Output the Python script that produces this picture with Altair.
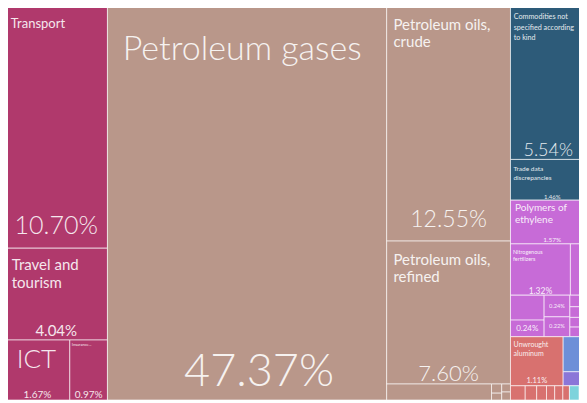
import altair as alt
import pandas as pd

# ---------------- data ----------------
cells = [
    "Transport", "Travel and tourism", "ICT", "Insurance",
    "Petroleum gases",
    "Petroleum oils, crude", "Petroleum oils, refined",
    "Mineral small 1", "Mineral small 2", "Mineral small 3", "Mineral small 4", "Mineral small 5",
    "Commodities not specified according to kind", "Trade data discrepancies",
    "Polymers of ethylene", "Nitrogenous fertilizers", "Chemical small 1",
    "Chemical small 2", "Chemical small 3", "Chemical small 4", "Chemical small 5",
    "Chemical small 6", "Chemical small 7", "Chemical small 8", "Chemical small 9",
    "Unwrought aluminum", "Machine small 1", "Machine small 2",
    "Machine small 3", "Machine small 4", "Machine small 5", "Machine small 6",
    "Metal small 1", "Metal small 2", "Metal small 3", "Metal small 4", "Metal small 5", "Metal small 6",
    "Textile small 1", "Food small 1", "Mineral small 6",
]
values = [
    10.70, 4.04, 1.67, 0.97,
    47.37,
    12.55, 7.60,
    0.72, 0.04, 0.03, 0.03, 0.03,
    5.54, 1.46,
    1.57, 1.32, 0.52,
    0.36, 0.24, 0.24, 0.22,
    0.12, 0.11, 0.10, 0.10,
    1.11, 0.30, 0.12,
    0.08, 0.06, 0.05, 0.04,
    0.09, 0.07, 0.06, 0.05, 0.05, 0.04,
    0.06, 0.05, 0.04,
]
sectors = [
    "services", "services", "services", "services",
    "mineral",
    "mineral", "mineral",
    "mineral", "mineral", "mineral", "mineral", "mineral",
    "unspecified", "unspecified",
    "chemical", "chemical", "chemical",
    "chemical", "chemical", "chemical", "chemical",
    "chemical", "chemical", "chemical", "chemical",
    "metal", "machine", "machine2",
    "machine", "machine", "machine2", "machine",
    "metal", "metal", "metal", "metal", "metal", "metal",
    "textile", "food", "mineral",
]

SECTOR_COLORS = {
    "services": "#B0396C",
    "mineral": "#B9978A",
    "unspecified": "#2D5B79",
    "chemical": "#C76BD7",
    "metal": "#D8716F",
    "machine": "#6D8FD8",
    "machine2": "#8B76D8",
    "textile": "#7DD3DC",
    "food": "#F1D35A",
}

# arrangement of the treemap ("h" = side by side, "v" = stacked)
TREE = ("h", [
    ("v", ["Transport", "Travel and tourism", ("h", ["ICT", "Insurance"])]),
    "Petroleum gases",
    ("v", ["Petroleum oils, crude", "Petroleum oils, refined",
           ("h", ["Mineral small 1", ("v", ["Mineral small 2", "Mineral small 3"]),
                  ("v", ["Mineral small 4", "Mineral small 5"])])]),
    ("v", ["Commodities not specified according to kind", "Trade data discrepancies",
           "Polymers of ethylene",
           ("h", ["Nitrogenous fertilizers", "Chemical small 1"]),
           ("h", [("v", ["Chemical small 2", "Chemical small 3"]),
                  ("v", ["Chemical small 4", "Chemical small 5"]),
                  ("v", ["Chemical small 6", "Chemical small 7", "Chemical small 8", "Chemical small 9"])]),
           ("h", ["Unwrought aluminum", ("v", ["Machine small 1", "Machine small 2"]),
                  ("v", ["Machine small 3", "Machine small 4", "Machine small 5", "Machine small 6"])]),
           ("h", ["Metal small 1", "Metal small 2", "Metal small 3", "Metal small 4", "Metal small 5",
                  "Metal small 6", "Textile small 1", "Food small 1", "Mineral small 6"])]),
])

# label texts
NAME_TEXT = {
    "Transport": ["Transport"],
    "Travel and tourism": ["Travel and", "tourism"],
    "ICT": ["ICT"],
    "Insurance": ["Insurance..."],
    "Petroleum gases": ["Petroleum gases"],
    "Petroleum oils, crude": ["Petroleum oils,", "crude"],
    "Petroleum oils, refined": ["Petroleum oils,", "refined"],
    "Commodities not specified according to kind": ["Commodities not", "specified according", "to kind"],
    "Trade data discrepancies": ["Trade data", "discrepancies"],
    "Polymers of ethylene": ["Polymers of", "ethylene"],
    "Nitrogenous fertilizers": ["Nitrogenous", "fertilizers"],
    "Unwrought aluminum": ["Unwrought", "aluminum"],
}
PCT_SHOWN = ["Transport", "Travel and tourism", "ICT", "Insurance", "Petroleum gases",
             "Petroleum oils, crude", "Petroleum oils, refined",
             "Commodities not specified according to kind", "Trade data discrepancies",
             "Polymers of ethylene", "Nitrogenous fertilizers", "Chemical small 3",
             "Chemical small 4", "Chemical small 5", "Unwrought aluminum"]

# ---------------- styles (px) ----------------
W, H = 589, 395
# name: (font size, first baseline from cell top, line height)
NAME_STYLE = {
    "Transport": (13, 23, 16),
    "Travel and tourism": (15, 22, 17.5),
    "ICT": (26, 28, 28),
    "Insurance": (4, 6, 5),
    "Petroleum gases": (34, 55, 36),
    "Petroleum oils, crude": (15, 25, 16.5),
    "Petroleum oils, refined": (15, 24, 16.5),
    "Commodities not specified according to kind": (7.2, 14, 10.5),
    "Trade data discrepancies": (6.5, 12, 8.5),
    "Polymers of ethylene": (10, 11, 12),
    "Nitrogenous fertilizers": (5.5, 10, 7),
    "Unwrought aluminum": (7, 10, 9),
}
# pct: (font size, baseline distance from cell bottom, horizontal shift)
PCT_STYLE = {
    "Transport": (25, 14, 0), "Travel and tourism": (15, 4, 0), "ICT": (10, 2.5, 0),
    "Insurance": (10, 2.5, 0), "Petroleum gases": (45, 14, 12), "Petroleum oils, crude": (23, 14, 0),
    "Petroleum oils, refined": (22, 3, 0), "Commodities not specified according to kind": (18, 3, -4),
    "Trade data discrepancies": (6, 1.5, 0), "Polymers of ethylene": (6.5, 1.5, 0),
    "Nitrogenous fertilizers": (8.5, 1.5, 0), "Chemical small 3": (8, 6, 0),
    "Chemical small 4": (5.7, 9, 0), "Chemical small 5": (5.7, 9, 0), "Unwrought aluminum": (7.5, 3, 0),
}

# ---------------- layout (slice and dice by value) ----------------
val = dict(zip(cells, values))
sec = dict(zip(cells, sectors))


def total(n):
    return val[n] if isinstance(n, str) else sum(total(k) for k in n[1])


rects = []


def place(n, x0, y0, x1, y1):
    if isinstance(n, str):
        rects.append(dict(name=n, x0=x0, y0=y0, x1=x1, y1=y1, value=val[n],
                          color=SECTOR_COLORS[sec[n]]))
        return
    d, kids = n
    tot = sum(total(k) for k in kids)
    pos = x0 if d == "h" else y0
    for k in kids:
        f = total(k) / tot
        if d == "h":
            w = (x1 - x0) * f
            place(k, pos, y0, pos + w, y1)
        else:
            w = (y1 - y0) * f
            place(k, x0, pos, x1, pos + w)
        pos += w


T = total(TREE)
place(TREE, 0.0, 0.0, T, 1.0)
rdf = pd.DataFrame(rects)
R = {r["name"]: r for r in rects}
kx = W / T  # px per x unit

txt = []
for nm, lines in NAME_TEXT.items():
    r = R[nm]
    fs, fb, lh = NAME_STYLE[nm]
    pad = max(2.0, 0.45 * fs)
    for i, line in enumerate(lines):
        txt.append(dict(t=line, x=r["x0"] + pad / kx, y=r["y0"] + (fb + i * lh) / H,
                        fs=fs, light=fs >= 18, kind="name"))
for nm in PCT_SHOWN:
    r = R[nm]
    fs, pb, sx = PCT_STYLE[nm]
    txt.append(dict(t=f"{r['value']:.2f}%", x=(r["x0"] + r["x1"]) / 2 + sx / kx, y=r["y1"] - pb / H,
                    fs=fs, light=fs >= 18, kind="pct"))
tdf = pd.DataFrame(txt)

xs = alt.Scale(domain=[0, T], nice=False, zero=False)
ys = alt.Scale(domain=[0, 1], nice=False, zero=False, reverse=True)

rect_layer = alt.Chart(rdf).mark_rect(stroke="#FFFFFF", strokeWidth=1, strokeOpacity=0.6).encode(
    x=alt.X("x0:Q", scale=xs, axis=None), x2="x1:Q",
    y=alt.Y("y0:Q", scale=ys, axis=None), y2="y1:Q",
    color=alt.Color("color:N", scale=None),
    tooltip=["name:N", "value:Q"],
)


def text_layer(kind, align, light):
    d = tdf[(tdf.kind == kind) & (tdf.light == light)]
    return alt.Chart(d).mark_text(
        align=align, baseline="alphabetic", font="Lato",
        fontWeight=300 if light else 400, color="#FFFFFF", opacity=0.88,
    ).encode(
        x=alt.X("x:Q", scale=xs, axis=None),
        y=alt.Y("y:Q", scale=ys, axis=None),
        text="t:N",
        size=alt.Size("fs:Q", scale=None),
    )


layers = [rect_layer]
for kind, align in [("name", "left"), ("pct", "center")]:
    for light in [False, True]:
        if len(tdf[(tdf.kind == kind) & (tdf.light == light)]):
            layers.append(text_layer(kind, align, light))

# svg width kept at the page's 571 px content width so it is not scaled down
chart = alt.layer(*layers).properties(
    width=W, height=H,
    padding={"left": -3, "top": -3, "right": -15, "bottom": 0},
    autosize=alt.AutoSizeParams(type="none"),
    background="#FFFFFF",
).configure_view(stroke=None)

chart.save("out.html", embed_options={"renderer": "svg", "actions": False})
